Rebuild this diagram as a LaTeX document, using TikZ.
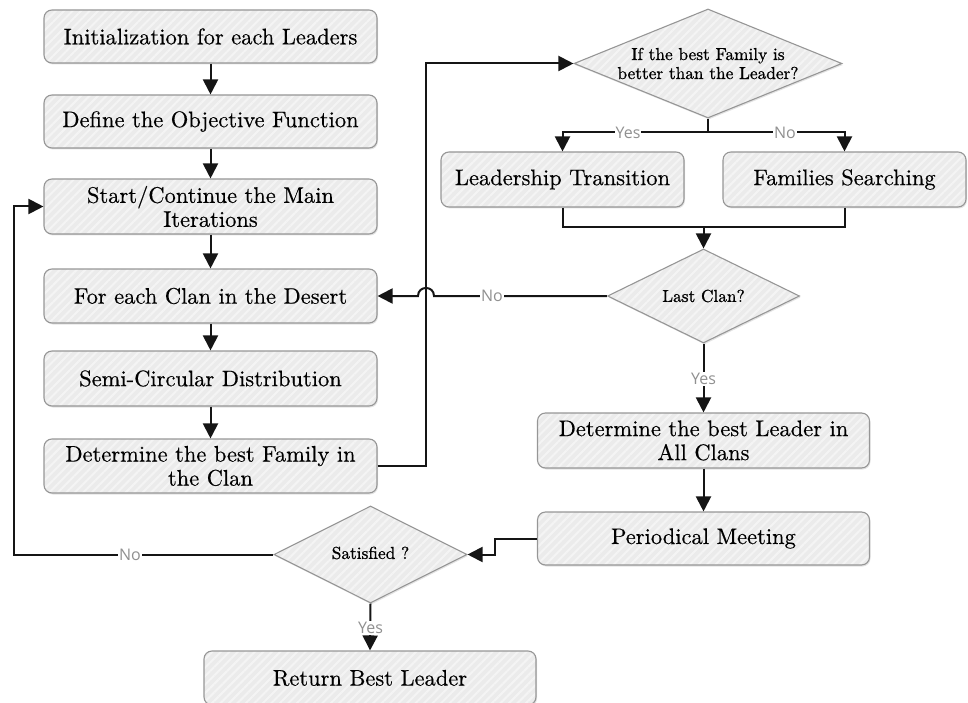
\documentclass[tikz,border=0pt]{standalone}
\usepackage{fontspec}
\newfontfamily\bxfont{lmroman10-regular.otf}[FakeBold=0.4]
\newfontfamily\dfont{lmroman10-regular.otf}[FakeBold=0.9]
\newfontfamily\labfont{Open Sans}
\usetikzlibrary{shapes.geometric,arrows.meta,patterns.meta,shadows}
\definecolor{boxfill}{HTML}{EBEBEB}
\definecolor{stripe}{HTML}{F4F4F4}
\definecolor{boxline}{HTML}{969696}
\definecolor{labgray}{HTML}{909090}
\definecolor{linecol}{HTML}{151515}
\tikzset{
  shaded/.style={drop shadow={shadow xshift=1pt,shadow yshift=-1.5pt,opacity=0.22},
    preaction={fill=boxfill},
    pattern={Lines[angle=45,distance=6pt,line width=2pt]}, pattern color=stripe,
    draw=boxline, line width=1.1pt},
  flowbox/.style={shaded, rounded corners=8pt, minimum height=54pt, inner sep=0pt,
    align=center, font=\bxfont\fontsize{22.5}{24}\selectfont},
  dia/.style={shaded, diamond, inner sep=0pt},
  dtext/.style={align=center, inner sep=0pt, font=\dfont\fontsize{17.3}{19}\selectfont},
  lab/.style={fill=white, inner sep=1pt, text=labgray, font=\labfont\fontsize{16}{16}\selectfont},
  conn/.style={draw=linecol, line width=2pt, -{Triangle[length=15pt,width=15pt]}},
  plain/.style={draw=linecol, line width=2pt}
}
\begin{document}
\begin{tikzpicture}[x=1pt,y=-1pt]
\useasboundingbox (0,0) rectangle (968,703);
% left column
\node[flowbox, minimum width=333pt, minimum height=53pt] (init) at (210.5,36.5) {Initialization for each Leaders};
\node[flowbox, minimum width=333pt, minimum height=53pt] (define) at (210.5,121.5) {Define the Objective Function};
\node[flowbox, minimum width=333pt, minimum height=55pt] (start) at (210.5,206.5) {Start/Continue the Main\\Iterations};
\node[flowbox, minimum width=333pt] (forb) at (210.5,296) {For each Clan in the Desert};
\node[flowbox, minimum width=333pt, minimum height=55pt] (semi) at (210.5,378.5) {Semi-Circular Distribution};
\node[flowbox, minimum width=333pt] (detfam) at (210.5,466) {Determine the best Family in\\the Clan};
% right part
\node[dia, minimum width=268pt, minimum height=109pt] (d1) at (708,63.5) {};
\node[dtext] at (d1) {If the best Family is\\better than the Leader?};
\node[flowbox, minimum width=243pt, minimum height=55pt] (lead) at (562.5,179.5) {Leadership Transition};
\node[flowbox, minimum width=243pt, minimum height=55pt] (fam) at (844.5,179.5) {Families Searching};
\node[dia, minimum width=192pt, minimum height=94pt] (last) at (703.5,296) {};
\node[dtext] at (last) {Last Clan?};
\node[flowbox, minimum width=332pt, minimum height=55pt] (dl) at (703.5,440.5) {Determine the best Leader in\\All Clans};
\node[flowbox, minimum width=332pt, minimum height=53pt] (per) at (703.5,538.5) {Periodical Meeting};
\node[dia, minimum width=193pt, minimum height=97pt] (sat) at (370.5,554.5) {};
\node[dtext] at ([yshift=1.5pt]sat.center) {Satisfied ?};
\node[flowbox, minimum width=332pt] (ret) at (370,678) {Return Best Leader};
% helper coordinates
\coordinate (vx) at (426,0);
\coordinate (lp) at (14,0);
\coordinate (pj) at (495,0);
\coordinate (sp) at (708,132.5);
\coordinate (mg) at (703.5,227);
% connectors
\draw[conn] (init) -- (define);
\draw[conn] (define) -- (start);
\draw[conn] (start) -- (forb);
\draw[conn] (forb) -- (semi);
\draw[conn] (semi) -- (detfam);
\draw[conn] (detfam.east) -- (detfam.east -| vx) -- (d1.west -| vx) -- (d1.west);
\draw[plain] (d1.south) -- (sp);
\draw[conn] (sp) -| (lead.north);
\draw[conn] (sp) -| (fam.north);
\node[lab] at (628,132.5) {Yes};
\node[lab] at (785,132.5) {No};
\draw[plain] (lead.south) |- (mg);
\draw[plain] (fam.south) |- (mg);
\draw[conn] (mg) -- (last.north);
\draw[conn] (last.west) -- (434,296) .. controls (434,285.3) and (418,285.3) .. (418,296) -- (forb.east);
\node[lab] at (492,296) {No};
\draw[conn] (last.south) -- (dl.north);
\node[lab] at (703.5,379) {Yes};
\draw[conn] (dl) -- (per);
\draw[conn] (per.west) -- (per.west -| pj) -- (sat.east -| pj) -- (sat.east);
\draw[conn] (sat.west) -- (sat.west -| lp) -- (start.west -| lp) -- (start.west);
\node[lab] at (130,554.5) {No};
\draw[conn] (sat.south) -- (ret.north);
\node[lab] at (370.5,628) {Yes};
\end{tikzpicture}
\end{document}
